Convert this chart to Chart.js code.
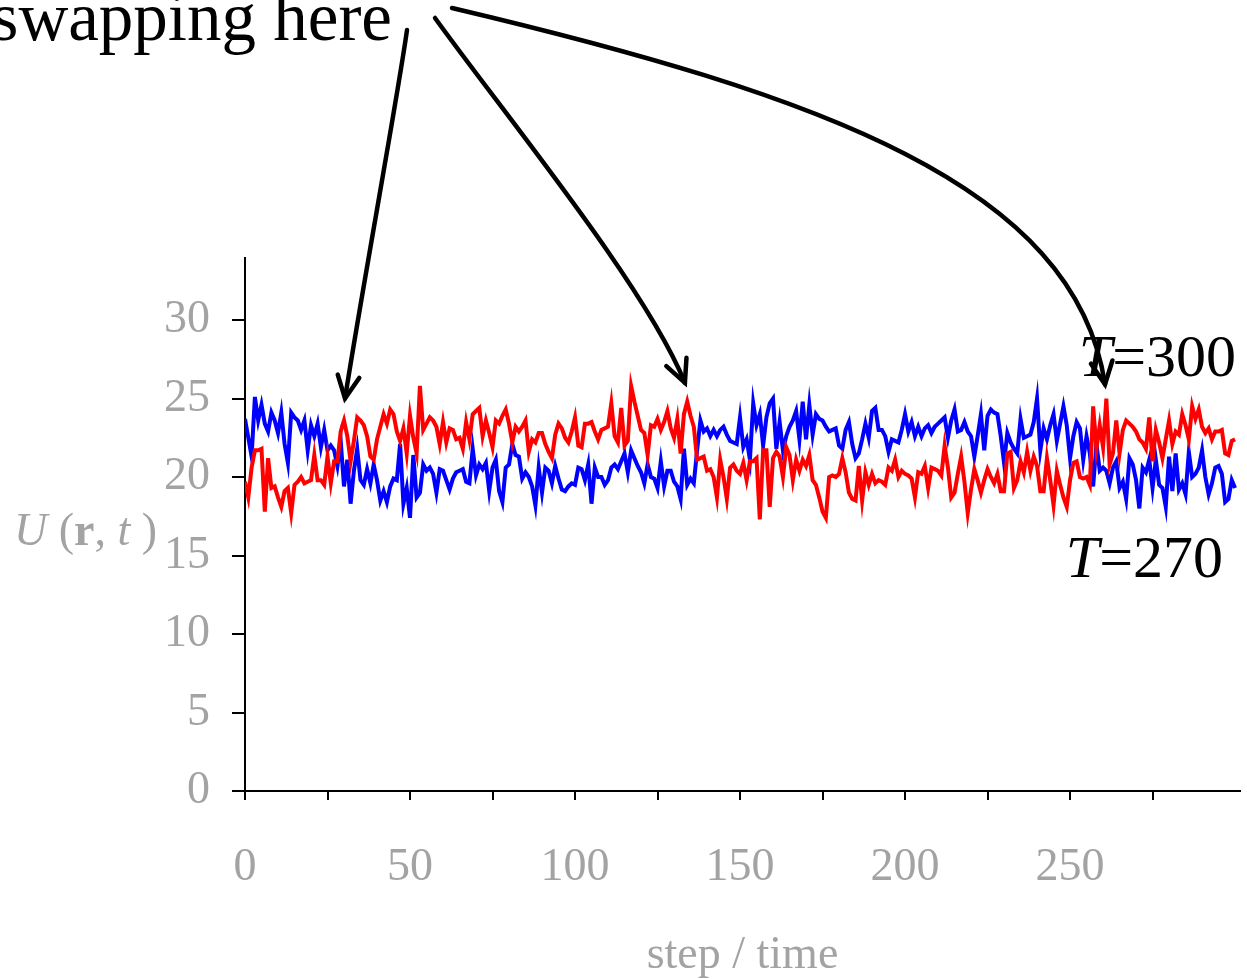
<!DOCTYPE html>
<html>
<head>
<meta charset="utf-8">
<script src="https://cdn.jsdelivr.net/npm/chart.js@4.4.1/dist/chart.umd.min.js"></script>
<style>
  html, body { margin: 0; padding: 0; background: #fff; }
  #wrap { width: 1247px; height: 979px; }
</style>
</head>
<body>
<div id="wrap"><canvas id="energyChart"></canvas></div>
<script>
// energy U(r,t) per step (step = array index)
const replicaRed = [
  19.7, 18.7, 20.6, 21.7, 21.7, 21.8, 17.8, 21.2, 19.3, 19.4, 18.7, 18.1, 19.1, 19.3, 17.7, 19.5, 19.7, 20.0, 19.6, 19.7, 19.8, 21.4, 19.8, 19.8, 19.5, 21.3, 19.6, 21.0, 21.0,
  22.9, 23.6, 22.6, 21.0, 22.3, 23.8, 23.6, 23.3, 22.6, 21.3, 21.1, 22.4, 23.2, 24.0, 23.4, 24.3, 24.0, 22.9, 22.3, 23.1, 21.5, 23.9, 22.5, 21.5, 25.8, 23.0, 23.4, 23.8, 23.6, 23.2, 22.1,
  23.5, 22.2, 23.1, 23.0, 22.4, 22.5, 21.8, 23.5, 22.4, 24.0, 24.2, 24.4, 22.6, 23.6, 22.8, 21.9, 23.6, 23.4, 23.9, 24.3, 23.4, 22.2, 23.2, 22.9, 23.2, 23.6, 21.6, 22.4, 22.2, 22.8,
  22.8, 22.1, 21.6, 21.2, 22.7, 23.4, 23.1, 22.5, 22.2, 22.9, 23.8, 22.0, 21.9, 23.4, 23.4, 23.5, 22.9, 22.4, 23.0, 23.1, 23.2, 24.7, 22.6, 22.2, 24.4, 22.0, 22.3, 25.8, 24.8, 23.9,
  23.0, 22.8, 21.4, 23.3, 23.2, 23.7, 23.0, 23.5, 24.2, 23.1, 22.5, 23.7, 21.5, 24.0, 24.8, 23.9, 23.2, 21.1, 21.2, 21.3, 20.4, 20.5, 20.0, 18.7, 21.1, 20.0, 18.6, 20.6, 20.8, 20.4, 20.2,
  20.9, 19.8, 21.0, 21.0, 21.2, 17.3, 21.7, 21.7, 18.1, 21.2, 21.6, 21.3, 20.0, 21.9, 21.4, 19.8, 21.1, 20.4, 21.1, 20.7, 21.4, 19.8, 19.5, 18.7, 17.8, 17.4, 20.0, 20.1, 20.0, 20.2,
  21.2, 20.3, 19.0, 18.6, 18.5, 20.7, 18.5, 20.3, 19.5, 20.2, 19.6, 19.8, 19.7, 19.5, 20.6, 20.4, 21.1, 20.0, 20.4, 20.2, 20.1, 19.9, 18.7, 20.3, 20.2, 20.7, 19.3, 20.6, 20.5, 20.4,
  20.1, 22.0, 20.6, 18.7, 19.0, 20.2, 21.3, 19.7, 17.7, 19.2, 20.5, 19.8, 19.0, 19.8, 20.5, 20.0, 19.6, 20.2, 19.1, 19.1, 21.5, 21.6, 19.3, 19.8, 21.0, 20.3, 21.6, 20.4, 21.3, 20.7, 19.1,
  19.1, 21.2, 19.8, 18.2, 20.4, 19.5, 18.7, 18.1, 19.8, 20.9, 21.0, 20.0, 19.9, 20.0, 19.5, 24.5, 21.8, 23.3, 21.9, 25.0, 20.8, 21.5, 23.6, 21.5, 23.0, 23.6, 23.4, 23.2, 22.9, 22.4,
  22.2, 21.8, 23.8, 21.0, 23.0, 22.2, 21.2, 22.4, 23.6, 22.1, 22.9, 22.7, 24.0, 23.3, 22.4, 24.5, 23.7, 24.3, 23.2, 22.8, 23.1, 22.4, 22.9, 22.9, 23.0, 21.5, 21.4, 22.3, 22.4
];
const replicaBlue = [
  23.7, 22.5, 21.3, 25.1, 23.6, 24.6, 23.4, 22.9, 24.1, 23.6, 22.8, 24.1, 22.1, 20.9, 24.1, 23.8, 23.6, 23.0, 23.6, 21.7, 23.3, 22.6, 23.4, 21.9, 23.0, 21.7, 22.0, 21.7, 20.7,
  22.3, 19.4, 21.1, 18.3, 20.4, 21.8, 19.8, 19.5, 20.5, 19.6, 20.8, 19.8, 18.5, 19.1, 18.4, 19.4, 19.9, 19.8, 22.1, 18.3, 19.3, 17.4, 21.4, 18.7, 19.0, 20.8, 20.4, 20.6, 20.2, 19.0, 20.5,
  20.4, 19.8, 19.2, 19.9, 20.3, 20.4, 20.5, 19.7, 19.6, 21.8, 20.1, 20.8, 20.5, 20.9, 19.1, 20.6, 21.1, 19.1, 18.4, 20.6, 20.8, 22.1, 21.4, 21.3, 19.9, 20.3, 20.0, 19.4, 18.2, 20.6,
  19.0, 20.6, 20.4, 19.6, 20.7, 19.9, 19.2, 19.1, 19.4, 19.6, 19.5, 20.6, 20.5, 19.8, 20.8, 18.3, 20.6, 20.0, 20.0, 19.5, 19.8, 20.6, 20.8, 20.5, 21.0, 21.5, 20.3, 21.7, 21.2, 20.7,
  20.3, 19.6, 20.8, 20.0, 19.9, 19.3, 21.0, 19.4, 20.4, 20.4, 19.7, 19.4, 18.6, 21.8, 19.5, 19.9, 19.6, 21.7, 23.6, 22.9, 23.1, 22.6, 23.0, 22.6, 23.0, 23.2, 22.7, 22.3, 22.2, 22.1, 23.8,
  21.9, 22.4, 21.1, 24.7, 23.3, 24.0, 22.0, 23.8, 24.7, 25.0, 21.8, 23.5, 21.7, 22.6, 23.2, 23.6, 24.2, 22.4, 24.8, 22.4, 24.6, 22.7, 24.0, 23.7, 23.6, 23.2, 22.9, 23.0, 23.1, 22.0,
  21.8, 23.0, 23.5, 22.1, 21.2, 21.5, 22.4, 23.4, 22.5, 24.2, 24.4, 23.0, 23.0, 22.6, 21.6, 22.4, 22.3, 22.2, 23.0, 24.0, 22.9, 23.5, 22.6, 23.2, 22.6, 23.1, 23.3, 22.8, 23.2, 23.4,
  23.6, 23.8, 22.5, 23.6, 24.3, 22.9, 23.0, 23.5, 22.9, 22.6, 21.3, 22.6, 24.0, 21.7, 23.9, 24.3, 24.1, 24.0, 22.6, 20.9, 22.8, 22.2, 21.8, 21.5, 23.7, 22.5, 22.6, 22.7, 23.5, 25.0, 21.7,
  23.1, 22.4, 23.3, 24.0, 22.3, 23.4, 24.5, 23.3, 21.2, 22.6, 23.5, 23.1, 21.1, 22.6, 21.5, 19.4, 22.1, 20.4, 20.6, 20.4, 19.6, 20.6, 21.0, 19.3, 19.7, 18.6, 21.2, 20.8, 19.8, 18.0,
  20.6, 20.3, 21.1, 19.3, 21.1, 19.5, 19.3, 18.1, 21.3, 19.1, 21.5, 19.2, 19.6, 18.9, 21.6, 20.0, 20.2, 20.6, 21.7, 20.0, 18.9, 19.6, 20.6, 20.7, 20.2, 18.4, 18.6, 19.8, 19.3
];

const xTickLabels = [0, 50, 100, 150, 200, 250];
const yTickLabels = [0, 5, 10, 15, 20, 25, 30];

// where the "swapping here" arrows point: [step, energy]
const swapPoints = [[30.3, 25.0], [133.3, 26.0], [260.6, 25.9]];

const grey = '#a3a3a3';
const serif = "'Liberation Serif', 'Times New Roman', serif";

function toPoints(arr) {
  return arr.map((v, i) => ({ x: i, y: v }));
}

// richtext helper: parts = [[text, fontStyle], ...]
function drawParts(ctx, parts, x, y, size, color, align) {
  let total = 0;
  parts.forEach(p => { ctx.font = p[1] + ' ' + size + 'px ' + serif; total += ctx.measureText(p[0]).width; });
  let cx = align === 'right' ? x - total : x;
  ctx.fillStyle = color;
  ctx.textBaseline = 'alphabetic';
  ctx.textAlign = 'left';
  parts.forEach(p => {
    ctx.font = p[1] + ' ' + size + 'px ' + serif;
    ctx.fillText(p[0], cx, y);
    cx += ctx.measureText(p[0]).width;
  });
}

function arrow(ctx, sx, sy, c1x, c1y, c2x, c2y, ex, ey) {
  ctx.beginPath();
  ctx.moveTo(sx, sy);
  ctx.bezierCurveTo(c1x, c1y, c2x, c2y, ex, ey);
  ctx.stroke();
  // open arrow head
  const a = Math.atan2(ey - c2y, ex - c2x);
  const len = 25, spread = 0.45;
  ctx.beginPath();
  ctx.moveTo(ex - len * Math.cos(a - spread), ey - len * Math.sin(a - spread));
  ctx.lineTo(ex, ey);
  ctx.lineTo(ex - len * Math.cos(a + spread), ey - len * Math.sin(a + spread));
  ctx.stroke();
}

const annotations = {
  id: 'annotations',
  afterDraw(chart) {
    const { ctx } = chart;
    const x = chart.scales.x, y = chart.scales.y;
    ctx.save();

    // y axis title, written horizontally
    drawParts(ctx, [['U', 'italic'], [' (', 'normal'], ['r', 'bold'], [', ', 'normal'], ['t', 'italic'], [' )', 'normal']],
      14, 545, 46, grey, 'left');

    // temperature labels
    drawParts(ctx, [['T', 'italic'], ['=300', 'normal']], 1236, 376, 60, '#000', 'right');
    drawParts(ctx, [['T', 'italic'], ['=270', 'normal']], 1223, 577, 60, '#000', 'right');

    // "swapping here" with its arrows
    drawParts(ctx, [['swapping here', 'normal']], 392, 40, 69, '#000', 'right');
    ctx.strokeStyle = '#000';
    ctx.lineWidth = 4.5;
    ctx.lineCap = 'round';
    ctx.lineJoin = 'miter';
    const tips = swapPoints.map(p => [x.getPixelForValue(p[0]), y.getPixelForValue(p[1])]);
    arrow(ctx, 407, 30, 398, 95, 362, 290, tips[0][0], tips[0][1]);
    arrow(ctx, 435, 18, 505, 115, 645, 285, tips[1][0], tips[1][1]);
    arrow(ctx, 452, 8, 820, 95, 1075, 185, tips[2][0], tips[2][1]);

    ctx.restore();
  }
};

new Chart(document.getElementById('energyChart'), {
  type: 'line',
  data: {
    datasets: [
      { label: 'red', data: toPoints(replicaRed), borderColor: '#ff0000', borderWidth: 4, pointRadius: 0, tension: 0, fill: false },
      { label: 'blue', data: toPoints(replicaBlue), borderColor: '#0000ff', borderWidth: 4, pointRadius: 0, tension: 0, fill: false }
    ]
  },
  options: {
    responsive: true,
    maintainAspectRatio: false,
    animation: false,
    layout: { padding: { left: 0, right: 7, top: 258, bottom: 0 } },
    plugins: { legend: { display: false }, tooltip: { enabled: false } },
    scales: {
      x: {
        type: 'linear',
        min: 0,
        max: 301.5,
        afterBuildTicks: s => { s.ticks = s.ticks.filter(t => t.value % 25 === 0); },
        afterFit: s => { s.height = 188; },
        ticks: {
          stepSize: 25,
          autoSkip: false,
          maxRotation: 0,
          padding: 40,
          color: grey,
          font: { family: serif, size: 46 },
          callback: v => xTickLabels.includes(v) ? String(v) : ''
        },
        grid: { drawOnChartArea: false, drawTicks: true, tickLength: 9, color: '#000', lineWidth: 2 },
        border: { display: true, color: '#000', width: 2 },
        title: { display: true, text: 'step / time', color: grey, font: { family: serif, size: 46, lineHeight: 1 }, padding: { top: 0, bottom: 0 } }
      },
      y: {
        min: 0,
        max: 33.95,
        afterBuildTicks: s => { s.ticks = s.ticks.filter(t => t.value % 5 === 0 && t.value <= 30); },
        afterFit: s => { s.width = 245; },
        ticks: {
          stepSize: 5,
          padding: 22,
          color: grey,
          font: { family: serif, size: 46 },
          callback: v => yTickLabels.includes(v) ? String(v) : ''
        },
        grid: { drawOnChartArea: false, drawTicks: true, tickLength: 13, color: '#000', lineWidth: 2 },
        border: { display: true, color: '#000', width: 2 }
      }
    }
  },
  plugins: [annotations]
});
</script>
</body>
</html>
